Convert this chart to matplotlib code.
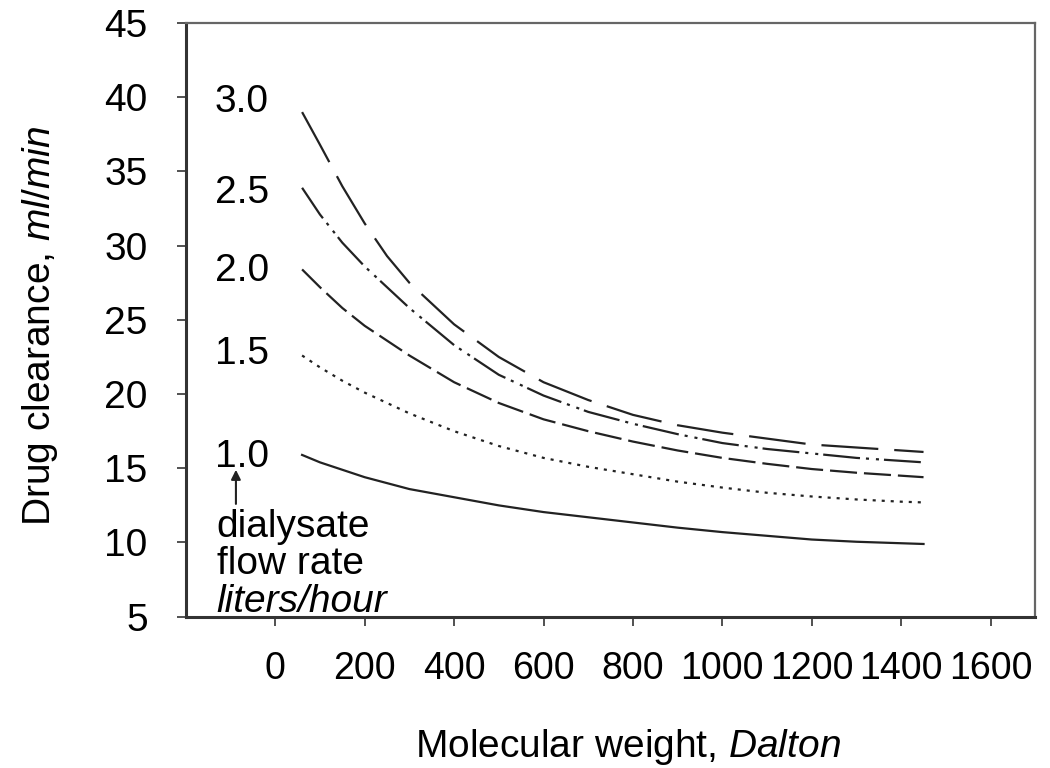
import numpy as np
import matplotlib
matplotlib.use('Agg')
import matplotlib.pyplot as plt

plt.rcParams['font.family'] = ['Liberation Sans', 'DejaVu Sans']
plt.rcParams['mathtext.fontset'] = 'custom'
plt.rcParams['mathtext.rm'] = 'Liberation Sans'
plt.rcParams['mathtext.it'] = 'Liberation Sans:italic'
plt.rcParams['lines.scale_dashes'] = False

# Molecular weight grid (Dalton)
mw = [60, 100, 150, 200, 250, 300, 400, 500, 600, 700, 800, 900,
      1000, 1100, 1200, 1300, 1400, 1450]

# Drug clearance (ml/min) for each dialysate flow rate (liters/hour)
flow_labels = ['3.0', '2.5', '2.0', '1.5', '1.0']
clear_30 = [39.0, 36.8, 34.0, 31.5, 29.3, 27.5, 24.7, 22.5, 20.8, 19.6, 18.6,
            17.9, 17.4, 17.0, 16.6, 16.4, 16.2, 16.1]
clear_25 = [33.9, 32.1, 30.2, 28.6, 27.2, 25.8, 23.3, 21.3, 19.9, 18.8, 18.0,
            17.3, 16.7, 16.3, 16.0, 15.7, 15.5, 15.4]
clear_20 = [28.4, 27.2, 25.8, 24.6, 23.6, 22.6, 20.8, 19.4, 18.3, 17.5, 16.8,
            16.2, 15.7, 15.3, 14.95, 14.7, 14.5, 14.4]
clear_15 = [22.6, 21.8, 20.9, 20.1, 19.4, 18.7, 17.5, 16.5, 15.7, 15.1, 14.6,
            14.1, 13.7, 13.35, 13.1, 12.9, 12.75, 12.7]
clear_10 = [15.9, 15.4, 14.9, 14.4, 14.0, 13.6, 13.05, 12.5, 12.05, 11.7, 11.35,
            11.0, 10.7, 10.45, 10.2, 10.05, 9.95, 9.9]
series = [clear_30, clear_25, clear_20, clear_15, clear_10]

x_ticks = [0, 200, 400, 600, 800, 1000, 1200, 1400, 1600]
y_ticks = [5, 10, 15, 20, 25, 30, 35, 40, 45]

# dash patterns in points
styles = [
    (0, (41, 11.5)),
    (0, (26.6, 4.3, 2.2, 5, 2.2, 3.6)),
    (0, (19.5, 5)),
    (0, (2.2, 4.3)),
    '-',
]

fig = plt.figure(figsize=(10.5, 7.68), dpi=100)
ax = fig.add_axes([0.177, 0.197, 0.809, 0.773])

for vals, ls in zip(series, styles):
    ax.plot(mw, vals, color='#222222', lw=1.6, linestyle=ls)

ax.set_xlim(-200, 1700)
ax.set_ylim(5, 45)
ax.set_xticks(x_ticks)
ax.set_yticks(y_ticks)
ax.tick_params(axis='both', direction='out', length=6.5, width=1.2,
               labelsize=28, color='#333333')
ax.tick_params(axis='y', pad=21)
ax.tick_params(axis='x', pad=18, labelsize=27)

for side in ['left', 'bottom']:
    ax.spines[side].set_linewidth(2.2)
    ax.spines[side].set_color('#333333')
for side in ['top', 'right']:
    ax.spines[side].set_linewidth(1.6)
    ax.spines[side].set_color('#666666')

ax.set_xlabel('Molecular weight, $\\mathit{Dalton}$', fontsize=28)
ax.set_ylabel('Drug clearance, $\\mathit{ml/min}$', fontsize=28)
ax.xaxis.set_label_coords(0.52, -0.186)
ax.yaxis.set_label_coords(-0.148, 0.49)

# flow rate labels next to curve starts
label_y = [39.0, 32.9, 27.6, 22.0, 15.1]
for lab, yy in zip(flow_labels, label_y):
    ax.text(-135, yy, lab, fontsize=28, ha='left', va='baseline')

ax.annotate('', xy=(-88, 14.9), xytext=(-88, 12.6),
            arrowprops=dict(arrowstyle='-|>', color='#222222', lw=1.5,
                            mutation_scale=14, shrinkA=0, shrinkB=0))
ax.text(-131, 10.4, 'dialysate', fontsize=28, ha='left', va='baseline')
ax.text(-131, 7.85, 'flow rate', fontsize=28, ha='left', va='baseline')
ax.text(-131, 5.35, 'liters/hour', fontsize=28, ha='left', va='baseline',
        style='italic')

fig.savefig('out.png', dpi=100)
